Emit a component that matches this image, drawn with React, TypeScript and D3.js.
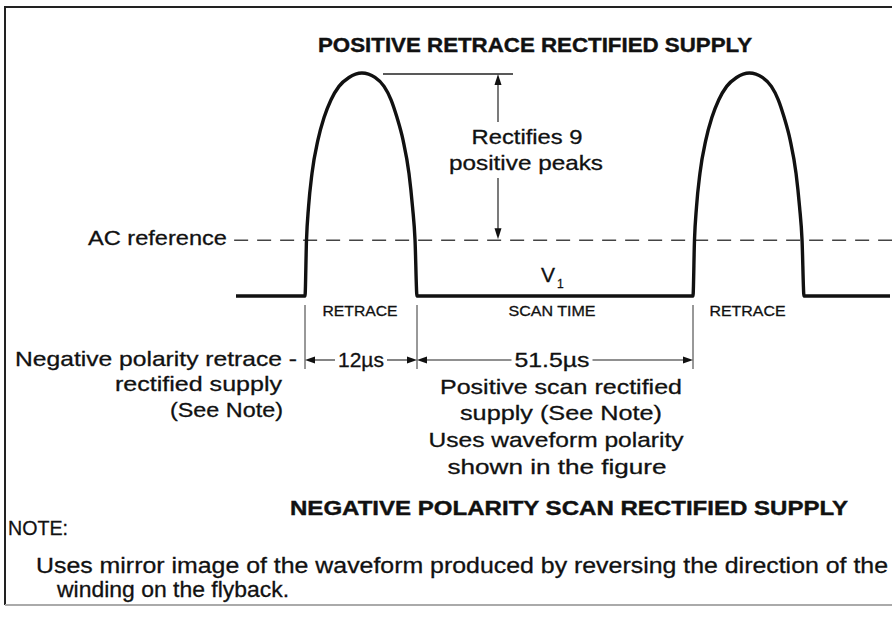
import React from 'react';
import * as d3 from 'd3';

// schematic time marks in µs: start, retrace 1, end of retrace, end of scan, end of retrace 2, end
const timeMarks = [-7.4, 0, 12, 63.5, 75.5, 84.7];
const retraceStarts = [0, 63.5];
const acReference = 0.25;

// one retrace pulse (µs from start of retrace, relative level)
const pulseT = [0, 0.16, 0.38, 0.75, 1.39, 2.04, 2.79, 3.64, 4.71, 6.1, 7.5, 8.47, 9.22, 9.86, 10.5, 11.14, 11.52, 11.79, 12];
const pulseV = [0, 0.25, 0.4, 0.55, 0.7, 0.8, 0.88, 0.94, 0.98, 1, 0.98, 0.94, 0.88, 0.8, 0.7, 0.55, 0.4, 0.25, 0];

const intervals = [
  { from: 0, to: 12, label: 'RETRACE', width: 75 },
  { from: 12, to: 63.5, label: 'SCAN TIME', width: 87 },
  { from: 63.5, to: 75.5, label: 'RETRACE', width: 76 },
];
const tickTimes = [0, 12, 63.5];
const durations = [
  { from: 0, to: 12, label: '12µs', width: 46 },
  { from: 12, to: 63.5, label: '51.5µs', width: 75 },
];

const leftNote = ['Negative polarity retrace -', 'rectified supply', '(See Note)'];
const rightNote = ['Positive scan rectified', 'supply  (See Note)', 'Uses waveform polarity', 'shown in the figure'];
const peakNote = ['Rectifies 9', 'positive peaks'];
const footNote = [
  'Uses mirror image of the waveform produced by reversing the direction of the',
  'winding on the flyback.',
];

const FONT = '"Liberation Sans", Arial, Helvetica, sans-serif';

const head = (x: number, y: number, dx: number, dy: number, len = 10, half = 3.5) =>
  `M${x},${y}L${x - dx * len - dy * half},${y - dy * len + dx * half}` +
  `L${x - dx * len + dy * half},${y - dy * len - dx * half}Z`;

const T: React.FC<any> = ({ x, y, len, size = 21, anchor = 'start', weight = 'normal', children }) => (
  <text
    x={x}
    y={y}
    fontFamily={FONT}
    fontSize={size}
    fontWeight={weight}
    textAnchor={anchor}
    textLength={len}
    lengthAdjust="spacingAndGlyphs"
    fill="#111"
    stroke="#111"
    strokeWidth={weight === 'bold' ? 0.4 : 0.3}>
    {children}
  </text>
);

const App: React.FC = () => {
  const x = d3.scaleLinear().domain(timeMarks).range([236, 305, 417, 693, 804, 890]);
  const y = d3.scaleLinear().domain([0, 1]).range([296, 73]);

  const pts: [number, number][] = [[timeMarks[0], 0]];
  retraceStarts.forEach((s) => pulseT.forEach((t, i) => pts.push([s + t, pulseV[i]])));
  pts.push([timeMarks[timeMarks.length - 1], 0]);

  const line = d3
    .line<[number, number]>()
    .x((d) => x(d[0]))
    .y((d) => y(d[1]))
    .curve(d3.curveMonotoneX);

  const dimY = 360;
  const arrowX = 498;

  return (
    <div style={{ position: 'fixed', left: 0, top: 0 }}>
      <svg width={892} height={624} style={{ display: 'block', background: '#fff' }}>
        {/* frame */}
        <path d="M5,605L5,7L892,7" stroke="#222" strokeWidth={2} fill="none" />
        <line x1={5} x2={892} y1={605} y2={605} stroke="#aaa" strokeWidth={2} />

        <T x={535} y={52} len={434} size={20} weight="bold" anchor="middle">
          POSITIVE RETRACE RECTIFIED SUPPLY
        </T>

        {/* AC reference */}
        <line
          x1={x(-7.6)}
          x2={x(86)}
          y1={y(acReference)}
          y2={y(acReference)}
          stroke="#444"
          strokeWidth={1.3}
          strokeDasharray="14 9"
        />
        <T x={88} y={245} len={139}>AC reference</T>

        {/* waveform */}
        <path d={line(pts) || ''} fill="none" stroke="#111" strokeWidth={3.4} strokeLinejoin="round" />

        {/* peak annotation */}
        <line x1={383} x2={513} y1={y(1) + 1} y2={y(1) + 1} stroke="#222" strokeWidth={1.3} />
        <line x1={arrowX} x2={arrowX} y1={y(1) + 6} y2={122} stroke="#222" strokeWidth={1.2} />
        <path d={head(arrowX, y(1) + 1, 0, -1, 11, 3.5)} fill="#111" />
        <line x1={arrowX} x2={arrowX} y1={178} y2={y(acReference) - 6} stroke="#222" strokeWidth={1.2} />
        <path d={head(arrowX, y(acReference) - 1, 0, 1, 11, 3.5)} fill="#111" />
        <T x={527} y={144} len={111} anchor="middle">{peakNote[0]}</T>
        <T x={526} y={170} len={154} anchor="middle">{peakNote[1]}</T>

        <T x={555} y={282} size={21} anchor="end">V</T>
        <T x={557} y={288} size={12}>1</T>

        {/* interval labels and ticks */}
        {intervals.map((d, i) => (
          <T
            key={i}
            x={(x(d.from) + x(d.to)) / 2 - (i === 1 ? 3 : 1)}
            y={316}
            size={14}
            len={d.width}
            anchor="middle">
            {d.label}
          </T>
        ))}
        {tickTimes.map((t) => (
          <line key={t} x1={x(t)} x2={x(t)} y1={305} y2={369} stroke="#333" strokeWidth={1} />
        ))}

        {/* durations */}
        {durations.map((d, i) => {
          const a = x(d.from);
          const b = x(d.to);
          const m = (a + b) / 2 - (i === 1 ? 3 : 0);
          return (
            <g key={i}>
              <line x1={a + 8} x2={m - d.width / 2 - 3} y1={dimY} y2={dimY} stroke="#222" strokeWidth={1.1} />
              <line x1={m + d.width / 2 + 3} x2={b - 8} y1={dimY} y2={dimY} stroke="#222" strokeWidth={1.1} />
              <path d={head(a, dimY, -1, 0, 10, 3.5)} fill="#111" />
              <path d={head(b, dimY, 1, 0, 10, 3.5)} fill="#111" />
              <T x={m} y={dimY + 7} len={d.width} anchor="middle">{d.label}</T>
            </g>
          );
        })}

        {/* side notes */}
        <T x={15} y={366} len={282}>{leftNote[0]}</T>
        <T x={282} y={391} len={167} anchor="end">{leftNote[1]}</T>
        <T x={283} y={417} len={113} anchor="end">{leftNote[2]}</T>

        <T x={561} y={394} len={242} anchor="middle">{rightNote[0]}</T>
        <T x={561} y={420} len={202} anchor="middle">{rightNote[1]}</T>
        <T x={556} y={447} len={255} anchor="middle">{rightNote[2]}</T>
        <T x={557} y={474} len={219} anchor="middle">{rightNote[3]}</T>

        <T x={569} y={515} len={558} size={20} weight="bold" anchor="middle">
          NEGATIVE POLARITY SCAN RECTIFIED SUPPLY
        </T>
        <T x={8} y={535} len={60} size={21}>NOTE:</T>
        <T x={36} y={573} len={852} size={22}>{footNote[0]}</T>
        <T x={57} y={597} len={232} size={22}>{footNote[1]}</T>
      </svg>
    </div>
  );
};

export default App;
